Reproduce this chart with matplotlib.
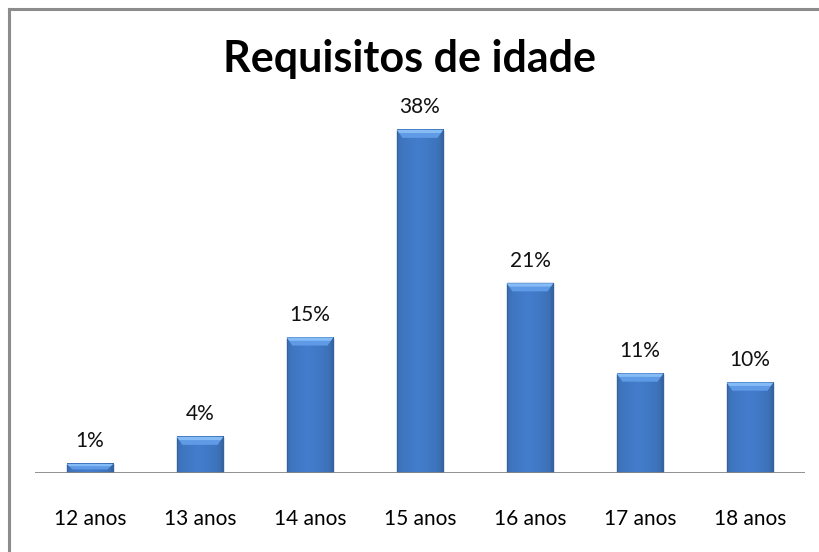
import numpy as np
import matplotlib
matplotlib.use("Agg")
import matplotlib.pyplot as plt
from matplotlib.patches import Polygon
from matplotlib.lines import Line2D

categories = ["12 anos", "13 anos", "14 anos", "15 anos", "16 anos", "17 anos", "18 anos"]
values = [1, 4, 15, 38, 21, 11, 10]
labels = ["1%", "4%", "15%", "38%", "21%", "11%", "10%"]

W, H, DPI = 819, 552, 100
fig = plt.figure(figsize=(W / DPI, H / DPI), dpi=DPI)
fig.patch.set_facecolor("white")

# frame (top and left lines visible)
fig.add_artist(Line2D([9 / W, 9 / W], [0, 1 - 9 / H], color="#8c8c8c", lw=2.2, transform=fig.transFigure))
fig.add_artist(Line2D([9 / W, 1], [1 - 9 / H, 1 - 9 / H], color="#8c8c8c", lw=2.2, transform=fig.transFigure))

left, right = 35 / W, 805 / W
base_y = 473
ymax = 40
px_per_unit = 9.03
top_y = base_y - ymax * px_per_unit
ax = fig.add_axes([left, (H - base_y) / H, right - left, (base_y - top_y) / H])
ax.set_xlim(-0.5, len(categories) - 0.5)
ax.set_ylim(0, ymax)
for s in ax.spines.values():
    s.set_visible(False)
ax.set_yticks([])
ax.set_xticks(range(len(categories)))
ax.set_xticklabels(categories, fontsize=15, family="Lato")
ax.tick_params(axis="x", length=0, pad=26)

bw = 0.42
# horizontal gradient: slightly darker edges, medium blue body
xs = np.linspace(0, 1, 64)
prof = np.clip(1 - np.abs(xs - 0.45) * 2, 0, 1) ** 0.35
dark = np.array([0.22, 0.40, 0.64])
mid = np.array([0.26, 0.49, 0.80])
grad = dark[None, :] + (mid - dark)[None, :] * prof[:, None]
grad = grad[None, :, :]

bevel_units = 8 / px_per_unit
bevel_x = 0.05
for i, v in enumerate(values):
    x0, x1 = i - bw / 2, i + bw / 2
    ax.imshow(grad, extent=(x0, x1, 0, v), aspect="auto", interpolation="bilinear", zorder=2)
    ax.add_patch(plt.Rectangle((x0, 0), bw, v, fill=False, edgecolor="#34629e", lw=1.0, zorder=3))
    bh = min(bevel_units, v * 0.6)
    ax.add_patch(Polygon([(x0, v), (x1, v), (x1 - bevel_x, v - bh), (x0 + bevel_x, v - bh)],
                         closed=True, facecolor="#5f9ae6", edgecolor="none", zorder=3))
    ax.add_patch(Polygon([(x0, v), (x1, v), (x1 - bevel_x * 0.4, v - bh * 0.4), (x0 + bevel_x * 0.4, v - bh * 0.4)],
                         closed=True, facecolor="#86bcf6", edgecolor="none", zorder=3))
    ax.text(i, v + 1.4, labels[i], ha="center", va="bottom", fontsize=15, family="Lato", color="#111111")

ax.axhline(0, color="#868686", lw=2, zorder=4)

fig.text(0.5, 1 - 59 / H, "Requisitos de idade", ha="center", va="center",
         fontsize=31, fontweight="bold", family="Lato", color="black")

fig.savefig("out.png", dpi=DPI)
